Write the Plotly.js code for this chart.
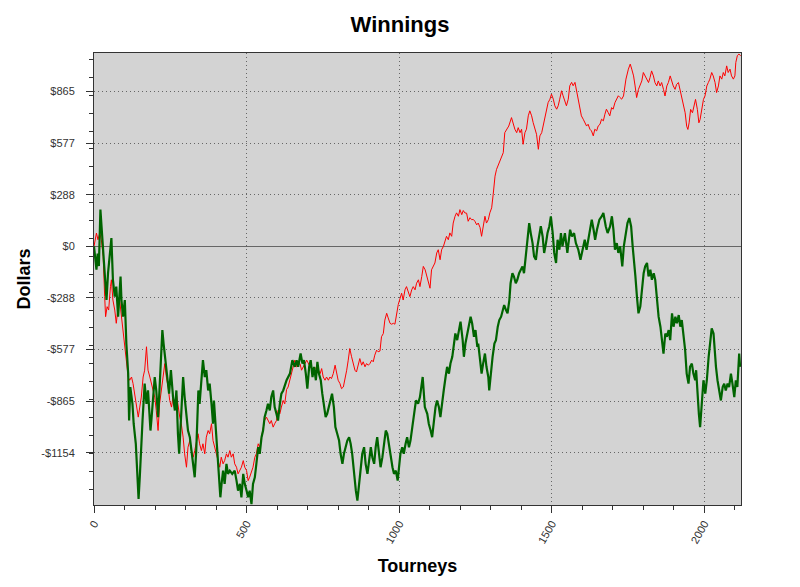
<!DOCTYPE html>
<html>
<head>
<meta charset="utf-8">
<script src="https://cdn.plot.ly/plotly-3.0.1.min.js"></script>
<style>html,body{margin:0;padding:0;background:#fff;}#chart{width:800px;height:587px;}</style>
</head>
<body>
<div id="chart"></div>
<script>
// ---------- data ----------
const chartTitle = "Winnings";
const xTitle = "Tourneys";
const yTitle = "Dollars";

const yTickVals = [-1153.6, -865.2, -576.8, -288.4, 0, 288.4, 576.8, 865.2];
const yTickText = ["-$1154", "-$865", "-$577", "-$288", "$0", "$288", "$577", "$865"];

const redTourney = [0,4,8,13,19,24,30,35,38,43,48,54,57,62,68,73,79,84,90,95,101,106,112,117,123,128,134,139,145,150,155,161,166,172,177,183,188,193,199,204,210,215,221,226,232,237,243,248,254,259,265,270,275,281,286,292,297,303,308,314,319,325,330,335,341,346,352,357,363,368,374,379,385,390,396,401,406,412,417,423,428,434,439,445,450,456,461,467,472,478,483,489,494,500,505,510,516,521,527,532,538,543,549,554,559,565,570,576,581,587,592,598,603,609,614,620,625,631,636,642,653,658,664,675,680,686,697,708,719,730,741,746,751,757,762,768,773,778,784,790,795,800,806,811,817,822,828,833,838,844,849,855,860,866,871,877,882,888,893,899,904,910,915,920,926,931,937,942,948,953,959,964,970,975,981,986,992,997,1003,1008,1013,1019,1024,1030,1035,1041,1046,1052,1057,1063,1068,1074,1079,1085,1090,1095,1101,1106,1112,1117,1123,1128,1134,1139,1145,1150,1155,1161,1166,1172,1177,1183,1188,1194,1199,1205,1210,1215,1221,1226,1232,1237,1243,1248,1254,1259,1265,1270,1275,1281,1286,1292,1297,1303,1308,1314,1319,1328,1336,1341,1346,1352,1359,1368,1374,1379,1385,1390,1396,1401,1406,1412,1417,1423,1428,1434,1439,1445,1450,1456,1461,1467,1472,1477,1483,1488,1494,1499,1505,1510,1516,1521,1526,1532,1537,1543,1548,1554,1559,1565,1570,1576,1581,1587,1592,1597,1603,1608,1614,1619,1625,1630,1636,1641,1647,1652,1658,1663,1669,1674,1679,1685,1690,1696,1701,1707,1712,1718,1723,1729,1735,1743,1751,1757,1762,1768,1773,1778,1784,1789,1795,1800,1806,1811,1817,1822,1827,1833,1838,1844,1849,1855,1860,1866,1871,1877,1882,1888,1893,1898,1904,1909,1915,1920,1926,1931,1937,1942,1946,1950,1955,1961,1966,1971,1977,1982,1986,1991,1997,2002,2008,2013,2018,2024,2029,2035,2040,2046,2051,2057,2062,2067,2073,2078,2084,2089,2095,2100,2103,2108,2113,2119];
const redDollars = [0,50,74,37,74,37,-56,-281,-393,-337,-356,-225,-187,-300,-356,-430,-337,-300,-393,-468,-561,-655,-730,-748,-730,-767,-842,-898,-954,-898,-842,-730,-692,-561,-692,-730,-767,-805,-842,-917,-1029,-879,-805,-730,-655,-730,-786,-861,-898,-842,-880,-823,-898,-954,-991,-1066,-1159,-1234,-1122,-1085,-1141,-1178,-1141,-1103,-1047,-1103,-1141,-1103,-1159,-1066,-1029,-1047,-991,-1085,-1122,-1159,-1197,-1234,-1178,-1215,-1197,-1159,-1178,-1141,-1178,-1159,-1215,-1234,-1271,-1253,-1234,-1197,-1234,-1253,-1309,-1290,-1253,-1234,-1178,-1159,-1103,-1122,-1066,-1010,-973,-954,-973,-991,-973,-1010,-991,-973,-917,-935,-898,-861,-880,-800,-786,-740,-673,-636,-673,-655,-692,-673,-636,-673,-692,-673,-711,-683,-730,-748,-730,-748,-730,-739,-711,-664,-711,-748,-767,-795,-786,-748,-692,-636,-571,-617,-655,-692,-702,-655,-627,-664,-645,-673,-655,-664,-655,-636,-645,-608,-580,-589,-585,-505,-487,-412,-374,-400,-430,-435,-430,-435,-374,-325,-290,-262,-300,-243,-225,-262,-281,-243,-225,-243,-206,-187,-225,-168,-112,-131,-168,-187,-234,-131,-112,-93,-37,-19,-75,-19,0,37,56,37,75,56,130,168,187,168,205,177,200,187,185,140,160,149,150,140,120,130,105,56,112,168,130,149,187,215,290,392,430,467,504,523,635,654,672,719,682,654,635,663,635,654,570,635,654,729,757,729,691,654,626,542,617,635,672,710,766,803,822,850,822,785,766,785,822,869,841,803,785,822,897,916,897,916,869,822,785,729,710,691,672,682,654,645,617,654,645,672,682,710,701,738,766,747,729,775,766,803,822,841,832,822,840,934,990,1018,990,952,896,831,877,896,924,971,952,934,915,943,980,952,915,896,924,896,915,877,840,896,915,952,915,896,877,905,915,877,840,802,746,671,653,690,765,746,784,821,765,690,709,765,821,840,896,915,934,971,952,915,859,896,952,934,971,952,1008,971,990,952,934,952,1027,1065,1074,1065];

const greenTourney = [0,4,8,12,16,21,30,35,41,46,57,62,68,73,79,87,90,95,101,106,112,115,119,126,130,137,142,146,150,152,159,166,172,177,185,188,193,199,204,210,215,219,224,228,235,239,246,252,259,265,270,275,279,287,292,297,303,308,314,319,325,330,335,339,342,346,352,357,363,368,374,379,385,390,393,399,405,410,414,418,423,428,434,439,445,453,461,467,472,478,483,489,494,500,505,510,516,521,527,532,538,543,549,554,559,565,570,576,581,587,592,598,603,609,614,620,631,642,650,658,664,669,677,683,688,694,699,705,710,716,721,727,732,737,743,748,753,759,764,770,775,780,786,791,797,803,808,814,819,825,830,836,841,846,852,858,863,868,874,879,885,890,896,901,907,912,918,923,928,934,939,945,950,956,961,967,972,978,983,989,995,1000,1004,1010,1015,1021,1026,1032,1037,1043,1048,1055,1062,1068,1077,1084,1092,1097,1103,1108,1114,1119,1124,1130,1135,1141,1146,1152,1157,1163,1168,1174,1179,1184,1190,1195,1201,1208,1212,1217,1223,1228,1234,1239,1245,1250,1256,1259,1265,1270,1275,1281,1286,1292,1295,1301,1306,1312,1317,1323,1328,1334,1339,1344,1350,1355,1361,1365,1371,1376,1382,1387,1393,1398,1404,1409,1415,1420,1426,1431,1437,1442,1448,1453,1459,1464,1470,1475,1481,1486,1492,1497,1503,1508,1514,1519,1525,1530,1535,1543,1551,1560,1566,1573,1579,1587,1594,1601,1608,1614,1623,1631,1637,1642,1648,1656,1664,1669,1677,1683,1691,1697,1702,1707,1713,1718,1724,1731,1736,1743,1748,1754,1760,1765,1770,1774,1779,1784,1790,1795,1801,1806,1812,1817,1823,1828,1834,1839,1845,1850,1856,1861,1866,1872,1877,1883,1888,1894,1899,1905,1910,1916,1921,1926,1932,1937,1942,1948,1953,1959,1964,1970,1973,1977,1982,1986,1992,1997,2003,2008,2014,2019,2024,2030,2033,2038,2043,2049,2054,2060,2065,2070,2076,2081,2087,2092,2098,2103,2108,2114,2117];
const greenDollars = [0,-75,-130,-40,-110,205,0,-169,-300,-149,46,-188,-281,-225,-393,-169,-300,-393,-300,-543,-711,-973,-786,-880,-991,-1103,-1327,-1411,-1290,-1197,-973,-767,-880,-805,-1029,-973,-842,-730,-805,-954,-786,-618,-468,-543,-655,-730,-823,-692,-842,-917,-805,-1047,-1159,-898,-730,-842,-954,-1029,-1066,-1141,-1215,-1290,-1141,-954,-805,-880,-767,-636,-730,-692,-805,-767,-880,-991,-861,-1029,-1178,-1290,-1402,-1327,-1253,-1327,-1215,-1271,-1253,-1271,-1253,-1309,-1365,-1327,-1402,-1271,-1327,-1365,-1402,-1365,-1440,-1327,-1290,-1215,-1122,-1159,-1066,-1029,-954,-917,-880,-917,-842,-805,-898,-936,-973,-880,-823,-805,-748,-711,-636,-673,-636,-673,-599,-655,-636,-711,-795,-673,-636,-730,-673,-748,-645,-711,-748,-823,-898,-954,-936,-898,-861,-823,-898,-1010,-1047,-1085,-1159,-1215,-1159,-1122,-1085,-1066,-1103,-1159,-1271,-1365,-1421,-1346,-1234,-1159,-1122,-1215,-1271,-1197,-1122,-1178,-1215,-1122,-1066,-1159,-1234,-1178,-1103,-1029,-1047,-1122,-1178,-1234,-1271,-1253,-1309,-1234,-1159,-1122,-1159,-1103,-1066,-1122,-1085,-1010,-936,-860,-879,-842,-730,-898,-936,-991,-1029,-1066,-973,-898,-861,-898,-954,-861,-804,-730,-673,-711,-655,-617,-543,-487,-524,-468,-421,-524,-617,-543,-487,-449,-393,-430,-505,-468,-561,-543,-636,-711,-655,-599,-673,-730,-805,-692,-617,-543,-524,-449,-412,-393,-356,-328,-356,-374,-300,-206,-150,-169,-206,-187,-150,-131,-112,-150,-56,55,130,74,18,-56,-75,0,74,112,55,-37,18,74,112,167,74,-37,-93,37,-19,74,0,74,-37,93,55,74,18,-19,-75,-19,37,-19,74,149,93,37,93,149,168,186,111,74,111,168,93,-19,18,-37,0,-112,0,74,130,158,111,0,-75,-168,-281,-374,-337,-262,-150,-112,-93,-168,-131,-187,-150,-187,-300,-393,-449,-524,-599,-487,-505,-468,-524,-374,-449,-393,-430,-384,-449,-412,-487,-580,-711,-767,-673,-655,-711,-748,-692,-823,-936,-1010,-861,-748,-823,-748,-617,-524,-458,-487,-580,-673,-748,-823,-861,-786,-767,-805,-767,-786,-711,-767,-842,-748,-786,-599,-673];

// ---------- chart ----------
const FONT = "Liberation Sans, Arial, Helvetica, sans-serif";
const AX = "#333333";
const GRID = "#666666";
const xRange = [0, 2120];
const yRange = [-1445, 1080];

const traces = [
  {x: redTourney, y: redDollars, type: "scatter", mode: "lines",
   line: {color: "#ff0000", width: 1}, xaxis: "x", yaxis: "y", hoverinfo: "skip"},
  {x: greenTourney, y: greenDollars, type: "scatter", mode: "lines",
   line: {color: "#006400", width: 2.2}, xaxis: "x", yaxis: "y", hoverinfo: "skip"}
];

const yCommon = {
  range: yRange, tickmode: "array", tickvals: yTickVals, ticktext: yTickText,
  tickcolor: AX, tickwidth: 1, tickfont: {family: FONT, size: 11, color: "#333"},
  showline: true, linecolor: AX, linewidth: 1, fixedrange: true
};

const layout = {
  width: 800, height: 587,
  paper_bgcolor: "#ffffff", plot_bgcolor: "#d3d3d3",
  margin: {l: 94, r: 59, t: 53, b: 82, pad: 0},
  showlegend: false,
  font: {family: FONT, color: "#000"},
  title: {text: chartTitle, x: 0.5, xanchor: "center", xref: "container",
          y: 0.958, yanchor: "middle", yref: "container",
          font: {family: FONT, size: 22, weight: "bold", color: "#000"}},
  xaxis: {
    range: xRange, tickmode: "linear", tick0: 0, dtick: 500,
    ticks: "outside", ticklen: 7, tickcolor: AX, tickwidth: 1, tickangle: -60,
    tickfont: {family: FONT, size: 11, color: "#333"},
    showline: true, linecolor: AX, linewidth: 1, mirror: true,
    showgrid: true, gridcolor: GRID, griddash: "1px,3px", gridwidth: 1,
    zeroline: false, fixedrange: true,
    minor: {ticks: "outside", ticklen: 4, tickmode: "linear", tick0: 0, dtick: 100, tickcolor: AX, showgrid: false},
    title: {text: xTitle, standoff: 14, font: {family: FONT, size: 18, weight: "bold", color: "#000"}}
  },
  xaxis2: {
    overlaying: "x", anchor: "y", side: "bottom", range: xRange,
    tickmode: "linear", tick0: 0, dtick: 500,
    ticks: "inside", ticklen: 7, tickcolor: AX, mirror: "ticks",
    showticklabels: false, showgrid: false, zeroline: false, showline: false, fixedrange: true,
    minor: {ticks: "inside", ticklen: 4, tickmode: "linear", tick0: 0, dtick: 100, tickcolor: AX, showgrid: false}
  },
  yaxis: Object.assign({}, yCommon, {
    side: "left", ticks: "outside", ticklen: 7, ticklabelstandoff: 9, mirror: true,
    showgrid: true, gridcolor: GRID, griddash: "1px,3px", gridwidth: 1,
    zeroline: true, zerolinecolor: "#666666", zerolinewidth: 1.5,
    minor: {ticks: "outside", ticklen: 4, tickmode: "linear", tick0: 44, dtick: 100, tickcolor: AX, showgrid: false},
    title: {text: yTitle, standoff: 6, font: {family: FONT, size: 18, weight: "bold", color: "#000"}}
  }),
  yaxis2: Object.assign({}, yCommon, {
    overlaying: "y", anchor: "x", side: "right", ticks: "outside", ticklen: 7, ticklabelstandoff: 10,
    showgrid: false, zeroline: false,
    minor: {ticks: "outside", ticklen: 4, tickmode: "linear", tick0: 44, dtick: 100, tickcolor: AX, showgrid: false}
  }),
  yaxis3: Object.assign({}, yCommon, {
    overlaying: "y", anchor: "x", side: "left", ticks: "inside", ticklen: 7, mirror: "ticks",
    showticklabels: false, showgrid: false, zeroline: false, showline: false,
    minor: {ticks: "inside", ticklen: 4, tickmode: "linear", tick0: 44, dtick: 100, tickcolor: AX, showgrid: false}
  })
};

Plotly.newPlot("chart", traces, layout, {displayModeBar: false, staticPlot: true});
</script>
</body>
</html>
